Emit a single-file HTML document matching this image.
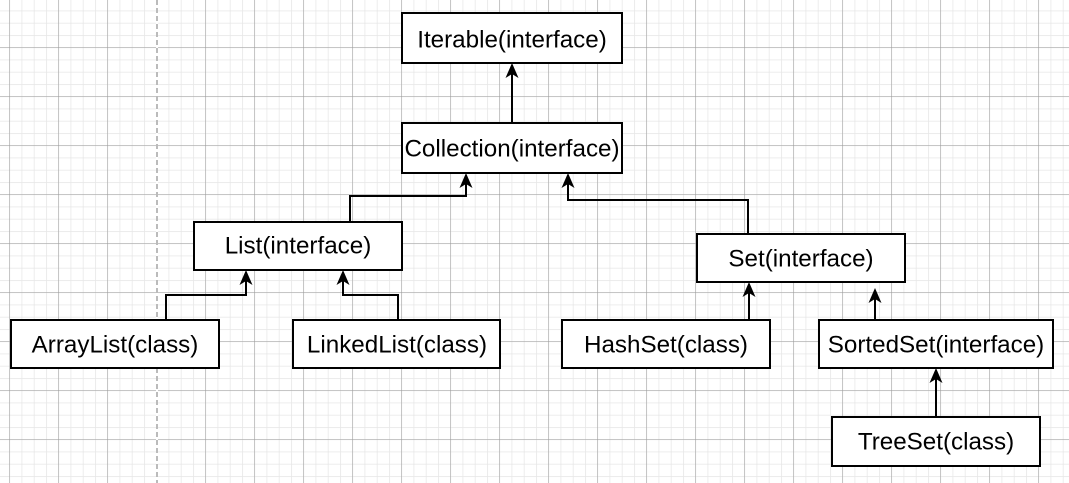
<!DOCTYPE html>
<html><head><meta charset="utf-8"><style>
html,body{margin:0;padding:0;background:#fff;}
svg{display:block;}
text{font-family:"Liberation Sans",Arial,sans-serif;font-size:24.2px;fill:#000;text-anchor:middle;dominant-baseline:central;}
</style></head><body>
<svg width="1069" height="483" viewBox="0 0 1069 483" xmlns="http://www.w3.org/2000/svg">
<defs>
<pattern id="minor" x="9.3" y="-1.7" width="12.25" height="12.25" patternUnits="userSpaceOnUse">
<path d="M0 0H12.25M0 0V12.25" stroke="#e6e6e6" stroke-width="1.5" fill="none"/>
</pattern>
<pattern id="major" x="9.3" y="-1.7" width="49" height="49" patternUnits="userSpaceOnUse">
<path d="M0 0H49M0 0V49" stroke="#9a9a9a" stroke-width="1" fill="none"/>
</pattern>
</defs>
<rect width="1069" height="483" fill="url(#minor)"/>
<rect width="1069" height="483" fill="url(#major)"/>
<line x1="157" y1="0" x2="157" y2="483" stroke="#fff" stroke-width="2"/>
<line x1="157" y1="0" x2="157" y2="483" stroke="#bbb" stroke-width="2" stroke-dasharray="5,3"/>

<g stroke="#000" stroke-width="2" fill="none">
<path d="M512 123V70"/>
<path d="M350 222V196H466V180"/>
<path d="M748 234V200H568V180"/>
<path d="M166 320V295H246V277"/>
<path d="M398 320V295H343V277"/>
<path d="M749 320V289"/>
<path d="M875 320V295"/>
<path d="M936 417V375"/>
</g>
<g fill="#000">
<path d="M512 63l-6.5 15 6.5-4 6.5 4z"/>
<path d="M466 173l-6.5 15 6.5-4 6.5 4z"/>
<path d="M568 173l-6.5 15 6.5-4 6.5 4z"/>
<path d="M246 270l-6.5 15 6.5-4 6.5 4z"/>
<path d="M343 270l-6.5 15 6.5-4 6.5 4z"/>
<path d="M749 282l-6.5 15 6.5-4 6.5 4z"/>
<path d="M875 288l-6.5 15 6.5-4 6.5 4z"/>
<path d="M936 368l-6.5 15 6.5-4 6.5 4z"/>
</g>

<g stroke="#000" stroke-width="2" fill="#fff">
<rect x="402" y="13" width="220" height="50"/>
<rect x="402" y="123" width="220" height="50"/>
<rect x="194" y="222" width="208" height="48"/>
<rect x="697" y="234" width="208" height="48"/>
<rect x="11" y="320" width="208" height="48"/>
<rect x="293" y="320" width="207" height="48"/>
<rect x="562" y="320" width="208" height="48"/>
<rect x="819" y="320" width="234" height="48"/>
<rect x="832" y="417" width="208" height="49"/>
</g>
<text x="512" y="40">Iterable(interface)</text>
<text x="512" y="149">Collection(interface)</text>
<text x="298" y="246">List(interface)</text>
<text x="801" y="259">Set(interface)</text>
<text x="115" y="345">ArrayList(class)</text>
<text x="397" y="345">LinkedList(class)</text>
<text x="666" y="345">HashSet(class)</text>
<text x="936" y="345">SortedSet(interface)</text>
<text x="936" y="442">TreeSet(class)</text>
</svg>
</body></html>
